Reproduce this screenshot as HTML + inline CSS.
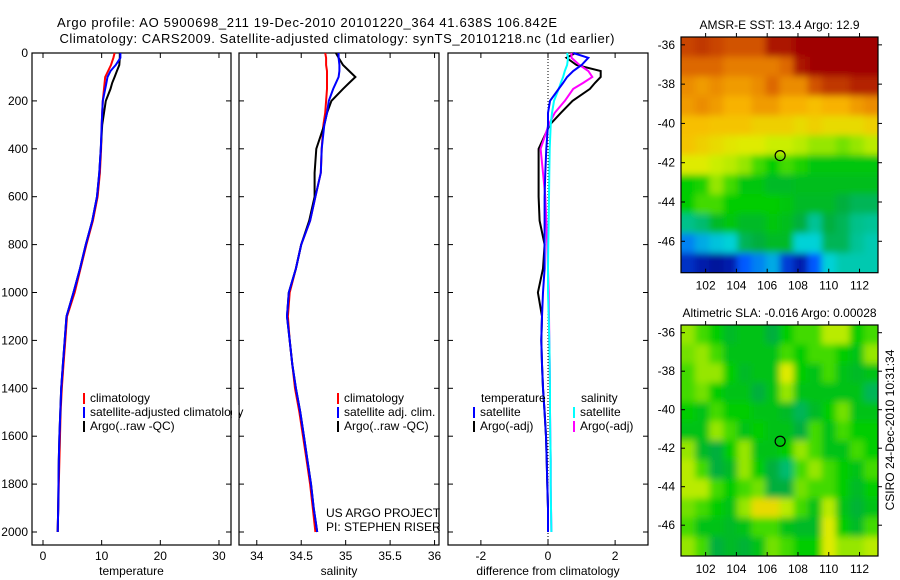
<!DOCTYPE html>
<html><head><meta charset="utf-8"><style>
body{margin:0;background:#fff;}
svg{display:block;font-family:"Liberation Sans",sans-serif;}
text{fill:#000;}
</style></head><body>
<svg id="c" width="900" height="580" viewBox="0 0 900 580" xmlns="http://www.w3.org/2000/svg">
<defs>
<filter id="blur" x="-5%" y="-5%" width="110%" height="110%"><feGaussianBlur stdDeviation="3.5"/></filter>
<clipPath id="clip1"><rect x="681" y="37" width="197" height="235.7"/></clipPath>
<clipPath id="clip2"><rect x="681" y="325" width="197" height="231"/></clipPath>
</defs>
<text x="307" y="27" font-size="13" text-anchor="middle" textLength="500">Argo profile: AO 5900698_211 19-Dec-2010 20101220_364 41.638S 106.842E</text>
<text x="337" y="43" font-size="13" text-anchor="middle" textLength="555">Climatology: CARS2009. Satellite-adjusted climatology: synTS_20101218.nc (1d earlier)</text>
</svg>
<script>
// ---- profile data ----
const depths = [0,20,50,75,100,125,150,200,250,300,400,500,600,700,800,900,1000,1100,1200,1300,1400,1500,1600,1700,1800,1900,2000];
const tempClim = [12.2,12.0,11.6,11.1,10.6,10.5,10.4,10.2,10.1,10.0,9.9,9.7,9.3,8.5,7.4,6.4,5.4,4.1,3.8,3.5,3.2,3.0,2.9,2.8,2.7,2.6,2.5];
const tempSat  = [13.2,13.2,12.4,11.5,11.0,10.8,10.6,10.2,10.1,10.0,9.85,9.6,9.2,8.4,7.3,6.3,5.2,4.0,3.7,3.4,3.1,2.95,2.8,2.7,2.65,2.6,2.5];
const tempArgo = [13.1,13.1,13.0,12.6,12.2,11.8,11.5,10.7,10.4,10.1,9.85,9.6,9.2,8.4,7.3,6.3,5.2,4.0,3.7,3.4,3.1,2.95,2.8,2.7,2.65,2.6,2.5];
const salClim = [34.77,34.78,34.78,34.79,34.79,34.79,34.79,34.78,34.77,34.75,34.73,34.72,34.66,34.6,34.5,34.44,34.37,34.35,34.37,34.4,34.43,34.48,34.52,34.56,34.6,34.63,34.66];
const salSat  = [34.92,34.92,34.93,34.93,34.92,34.89,34.86,34.81,34.79,34.76,34.73,34.72,34.66,34.6,34.5,34.44,34.36,34.34,34.37,34.4,34.44,34.49,34.53,34.57,34.61,34.64,34.68];
const salArgo = [34.89,34.92,34.97,35.04,35.11,35.04,34.97,34.84,34.79,34.76,34.67,34.65,34.65,34.59,34.5,34.44,34.36,34.34,34.37,34.4,34.44,34.49,34.53,34.57,34.61,34.64,34.68];
const dTempSat  = [0.75,1.2,1.0,0.75,0.57,0.45,0.32,0.06,0.0,0.0,-0.05,-0.08,-0.1,-0.1,-0.1,-0.1,-0.15,-0.18,-0.2,-0.18,-0.15,-0.1,-0.06,-0.04,-0.02,0.0,0.0];
const dTempArgo = [0.82,0.55,0.85,1.57,1.57,1.4,1.25,0.73,0.38,0.05,-0.28,-0.28,-0.28,-0.25,-0.1,-0.15,-0.3,-0.18,-0.2,-0.18,-0.15,-0.1,-0.06,-0.04,-0.02,0.0,0.0];
const dSalSat   = [0.57,0.6,0.57,0.5,0.45,0.38,0.32,0.18,0.12,0.08,0.05,0.04,0.03,0.02,0.01,0.0,0.0,0.02,0.04,0.05,0.06,0.06,0.07,0.08,0.08,0.09,0.1];
const dSalArgo  = [0.7,0.7,0.94,1.2,1.32,1.05,0.75,0.5,0.2,0.02,-0.22,-0.15,-0.08,-0.05,-0.02,0.0,0.02,0.03,0.04,0.05,0.06,0.06,0.07,0.08,0.08,0.09,0.1];
const depthTicks = [0,200,400,600,800,1000,1200,1400,1600,1800,2000];
const tempTicks = [0,10,20,30];
const salTicks = [34,34.5,35,35.5,36];
const diffTicks = [-2,0,2];
// ---- map data (normalised 0..1 colour index), rows north->south ----
const latTicks = [-36,-38,-40,-42,-44,-46];
const lonTicks = [102,104,106,108,110,112];
const sstGrid = [
[.9,.92,.9,.88,.88,.88,.97,.97,1,1,1,1,1,1],
[.85,.85,.85,.82,.82,.82,.82,.85,.97,1,1,1,1,1],
[.8,.78,.8,.78,.78,.8,.85,.8,.8,.88,.92,.92,.95,.95],
[.78,.8,.78,.75,.75,.78,.78,.75,.75,.73,.75,.75,.78,.8],
[.73,.73,.72,.72,.72,.7,.7,.7,.68,.7,.68,.68,.68,.7],
[.72,.7,.68,.66,.65,.65,.63,.63,.62,.6,.6,.58,.6,.62],
[.65,.65,.63,.62,.6,.55,.5,.55,.52,.48,.48,.48,.48,.48],
[.5,.52,.6,.55,.48,.48,.45,.45,.46,.46,.46,.46,.46,.46],
[.5,.55,.55,.5,.5,.5,.5,.48,.45,.45,.45,.42,.4,.4],
[.36,.38,.45,.48,.45,.45,.48,.46,.42,.35,.42,.4,.36,.35],
[.2,.25,.28,.3,.4,.42,.45,.45,.3,.3,.4,.4,.35,.33],
[.08,.05,.03,.05,.15,.2,.25,.1,.05,.15,.3,.33,.33,.33]];
const slaGrid = [
[.6,.55,.5,.45,.47,.47,.42,.5,.55,.55,.62,.62,.5,.55],
[.58,.6,.55,.47,.47,.47,.47,.55,.5,.55,.55,.5,.47,.6],
[.55,.6,.6,.5,.45,.47,.47,.65,.5,.47,.55,.47,.45,.47],
[.55,.58,.5,.47,.47,.42,.47,.6,.47,.47,.47,.47,.47,.4],
[.5,.47,.55,.5,.5,.47,.47,.45,.4,.45,.5,.58,.47,.47],
[.47,.47,.6,.55,.47,.5,.47,.47,.42,.55,.47,.55,.5,.5],
[.6,.45,.42,.5,.6,.47,.47,.5,.6,.55,.47,.47,.55,.5],
[.62,.55,.42,.45,.6,.5,.42,.38,.55,.6,.55,.5,.47,.55],
[.62,.62,.55,.5,.55,.58,.42,.42,.58,.55,.55,.5,.45,.5],
[.58,.55,.5,.47,.6,.68,.68,.62,.55,.47,.62,.47,.43,.47],
[.55,.47,.47,.45,.47,.55,.55,.47,.45,.45,.65,.5,.45,.55],
[.6,.55,.42,.45,.43,.47,.58,.55,.5,.5,.65,.6,.6,.62]];
const argoLon = [106.842];
const argoLat = [-41.638];

const NS='http://www.w3.org/2000/svg';
const svg=document.getElementById('c');
function mk(tag,attrs,parent){const e=document.createElementNS(NS,tag);for(const k in attrs)e.setAttribute(k,attrs[k]);(parent||svg).appendChild(e);return e;}
function txt(x,y,s,size,anchor,parent){const t=mk('text',{x:x,y:y,'font-size':size,'text-anchor':anchor||'middle'},parent);t.textContent=s;return t;}

const Y0=53, Y1=545, yScale=d=>Y0+d*(532-53)/2000;
const panels=[
 {name:'temperature',x0:32,x1:231,v0:-1.875,v1:32.05,ticks:tempTicks,label:'temperature'},
 {name:'salinity',x0:239,x1:439,v0:33.8,v1:36.05,ticks:salTicks,label:'salinity'},
 {name:'difference',x0:448,x1:648,v0:-2.98,v1:2.98,ticks:diffTicks,label:'difference from climatology'}];
panels.forEach(p=>{p.xs=v=>p.x0+(v-p.v0)/(p.v1-p.v0)*(p.x1-p.x0);});

panels.forEach((p,i)=>{
  const g=mk('g',{});
  
  
  const r=mk('rect',{x:p.x0,y:Y0,width:p.x1-p.x0,height:Y1-Y0,fill:'none',stroke:'#000','stroke-width':1.2},g);
  
  
  p.ticks.forEach(t=>{const x=p.xs(t);
    mk('line',{x1:x,y1:Y1,x2:x,y2:Y1-5,stroke:'#000'},g);mk('line',{x1:x,y1:Y0,x2:x,y2:Y0+5,stroke:'#000'},g);
    const tl=txt(x,560,String(t),12,'middle',g);
    
    });
  depthTicks.forEach(d=>{const y=yScale(d);
    mk('line',{x1:p.x0,y1:y,x2:p.x0+5,y2:y,stroke:'#000'},g);mk('line',{x1:p.x1,y1:y,x2:p.x1-5,y2:y,stroke:'#000'},g);
    if(i===0){const tl=txt(28,y+4,String(d),12,'end',g);
      
      }});
  const xl=txt((p.x0+p.x1)/2,575,p.label,12,'middle',g);
  
  
});

const zl=mk('line',{x1:panels[2].xs(0),y1:Y0,x2:panels[2].xs(0),y2:Y1,stroke:'#000','stroke-dasharray':'1,2','stroke-width':1});



function series(p,vals,color,name){
  const pts=vals.map((v,k)=>p.xs(v).toFixed(1)+','+yScale(depths[k]).toFixed(1)).join(' ');
  const l=mk('polyline',{points:pts,fill:'none',stroke:color,'stroke-width':2});
  
  
}
series(panels[0],tempClim,'#f00','temp-climatology-line');
series(panels[0],tempArgo,'#000','temp-argo-line');
series(panels[0],tempSat,'#00f','temp-satellite-line');
series(panels[1],salClim,'#f00','sal-climatology-line');
series(panels[1],salArgo,'#000','sal-argo-line');
series(panels[1],salSat,'#00f','sal-satellite-line');
series(panels[2],dTempArgo,'#000','diff-temp-argo-line');
series(panels[2],dSalArgo,'#f0f','diff-sal-argo-line');
series(panels[2],dSalSat,'#0ff','diff-sal-satellite-line');
series(panels[2],dTempSat,'#00f','diff-temp-satellite-line');

function legend(x,y,color,label,name){
  const g=mk('g',{});
  
  
  mk('rect',{x:x,y:y-9,width:2,height:11,fill:color},g);
  txt(x+7,y,label,12,'start',g);
}
legend(83,402,'#f00','climatology','legend-climatology');
legend(83,416,'#00f','satellite-adjusted climatology','legend-satellite-adjusted');
legend(83,430,'#000','Argo(..raw -QC)','legend-argo');
legend(337,402,'#f00','climatology','legend-sal-climatology');
legend(337,416,'#00f','satellite adj. clim.','legend-sal-satellite');
legend(337,430,'#000','Argo(..raw -QC)','legend-sal-argo');
let h=txt(481,402,'temperature',12,'start');
h=txt(581,402,'salinity',12,'start');
legend(473,416,'#00f','satellite','legend-temp-satellite');
legend(473,430,'#000','Argo(-adj)','legend-temp-argo');
legend(573,416,'#0ff','satellite','legend-sal-satellite-diff');
legend(573,430,'#f0f','Argo(-adj)','legend-sal-argo-diff');
const cov=mk('rect',{x:232,y:405,width:6.5,height:14,fill:'#fff'});


h=txt(326,517,'US ARGO PROJECT',12,'start');
h=txt(326,531,'PI: STEPHEN RISER',12,'start');

// ---- maps ----
const stops=[[0,[0,0,130]],[0.15,[0,90,255]],[0.3,[0,210,215]],[0.42,[0,175,60]],[0.5,[0,205,0]],[0.56,[80,220,0]],[0.64,[220,240,0]],[0.74,[250,185,0]],[0.84,[225,110,0]],[1,[160,0,0]]];
function cmap(v){for(let i=1;i<stops.length;i++){if(v<=stops[i][0]){const a=stops[i-1],b=stops[i],t=(v-a[0])/(b[0]-a[0]);
  return 'rgb('+a[1].map((c,k)=>Math.round(c+(b[1][k]-c)*t)).join(',')+')';}}return 'rgb(160,0,0)';}
const lonMin=100.4, lonMax=113.2, latMax=-35.6, latMin=-47.6;
function drawMap(grid,top,bottom,title,name,clip){
  const L=681,R=878;
  const g=mk('g',{});
  
  
  const xs=lon=>L+(lon-lonMin)/(lonMax-lonMin)*(R-L);
  const ys=lat=>top+(latMax-lat)/(latMax-latMin)*(bottom-top);
  const nr=grid.length,nc=grid[0].length,cw=(R-L)/nc,ch=(bottom-top)/nr;
  const cg=mk('g',{'clip-path':'url(#'+clip+')'},g);
  const bg=mk('g',{filter:'url(#blur)'},cg);
  grid.forEach((row,r)=>row.forEach((v,c)=>{
    let x=L+c*cw,y=top+r*ch,w=cw+0.6,hh=ch+0.6;
    if(c===0){x-=10;w+=10;} if(c===nc-1){w+=10;}
    if(r===0){y-=10;hh+=10;} if(r===nr-1){hh+=10;}
    const cell=mk('rect',{x:x.toFixed(2),y:y.toFixed(2),width:w.toFixed(2),height:hh.toFixed(2),fill:cmap(v)},bg);
    
    
  }));
  mk('rect',{x:L,y:top,width:R-L,height:bottom-top,fill:'none',stroke:'#000','stroke-width':1.2},g);
  latTicks.forEach(t=>{const y=ys(t);mk('line',{x1:L,y1:y,x2:L+4,y2:y,stroke:'#000'},g);mk('line',{x1:R,y1:y,x2:R+4,y2:y,stroke:'#000'},g);
    const tl=txt(675,y+4,String(t),12,'end',g);});
  lonTicks.forEach(t=>{const x=xs(t);mk('line',{x1:x,y1:bottom,x2:x,y2:bottom-4,stroke:'#000'},g);mk('line',{x1:x,y1:top,x2:x,y2:top-4,stroke:'#000'},g);
    const tl=txt(x,bottom+17,String(t),12,'middle',g);});
  const tt=txt((L+R)/2,top-8,title,12,'middle',g);
  
  
  argoLon.forEach((lo,k)=>{const m=mk('circle',{cx:xs(lo),cy:ys(argoLat[k]),r:5,fill:'none',stroke:'#000','stroke-width':1.2},g);
    
    });
}
drawMap(sstGrid,37,272.7,'AMSR-E SST: 13.4 Argo: 12.9','sst-map','clip1');
drawMap(slaGrid,325,556,'Altimetric SLA: -0.016 Argo: 0.00028','sla-map','clip2');
const st=txt(0,0,'CSIRO 24-Dec-2010 10:31:34',12,'middle');
st.setAttribute('transform','translate(894,430) rotate(-90)');


</script>
</body></html>
